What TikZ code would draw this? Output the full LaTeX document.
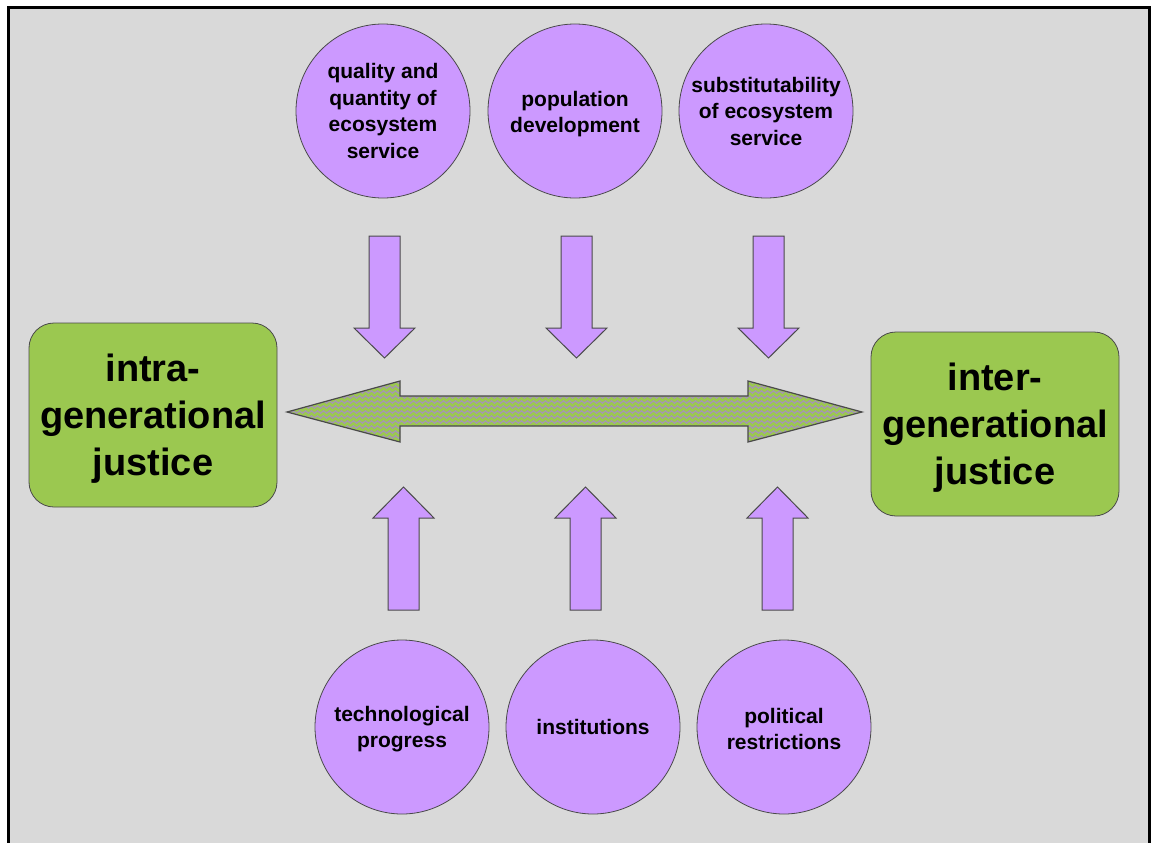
\documentclass[tikz,border=0pt]{standalone}
\usepackage{fontspec}
\setmainfont{Liberation Sans}
\usetikzlibrary{decorations.pathmorphing}
\definecolor{bg}{HTML}{D9D9D9}
\definecolor{lila}{HTML}{CC99FF}
\definecolor{grn}{HTML}{9BC850}
\definecolor{zz}{HTML}{A596B3}
\definecolor{edge}{HTML}{4A4A4A}
\begin{document}
\begin{tikzpicture}[x=1pt,y=-1pt,
  circ/.style={circle, draw=edge, line width=0.8pt, fill=lila, minimum size=174pt, inner sep=0pt, align=center, font=\fontsize{21}{26.5}\selectfont\bfseries},
  ctext/.style={inner sep=0pt, align=center, font=\fontsize{21}{26.5}\selectfont\bfseries},
  gbox/.style={rectangle, rounded corners=25pt, draw=edge, line width=0.8pt, fill=grn, minimum width=248pt, minimum height=184pt},
  gtext/.style={inner sep=0pt, align=center, font=\fontsize{38}{47}\selectfont\bfseries},
  blockarrow/.style={fill=lila, draw=edge, line width=1pt, line join=miter},
  downarrow/.pic={\path[blockarrow] (-15.5,0) -- (15.5,0) -- (15.5,92) -- (30.5,92) -- (0,122) -- (-30.5,92) -- (-15.5,92) -- cycle;},
  uparrow/.pic={\path[blockarrow] (-15.5,0) -- (15.5,0) -- (15.5,-92) -- (30.5,-92) -- (0,-123) -- (-30.5,-92) -- (-15.5,-92) -- cycle;}
]
\useasboundingbox (0,0) rectangle (1151,843);
\fill[white] (0,0) rectangle (1151,843);
\draw[line width=3pt, fill=bg] (8.5,7.5) rectangle (1149.5,900);

% top circles
\node[circ] (q) at (383,111) {quality and\\quantity of\\ecosystem\\service};
\node[circ] (p) at (575,111) {};
\node[ctext] (ptext) at (575,114) {population\\development};
\node[circ] (s) at (766,111) {substitutability\\of ecosystem\\service};

% bottom circles
\node[circ] (t) at (402,727) {};
\node[ctext] (ttext) at (402,729) {technological\\progress};
\node[circ] (i) at (593,727) {institutions};
\node[circ] (r) at (784,727) {};
\node[ctext] (rtext) at (784,729) {political\\restrictions};

% green boxes
\node[gbox] (intra) at (153,415) {};
\node[gtext] (intratext) at (153,419) {intra-\\generational\\justice};
\node[gbox] (inter) at (995,424) {};
\node[gtext] (intertext) at (995,428) {inter-\\generational\\justice};

% down arrows
\pic at (384.5,236) {downarrow};
\pic at (576.5,236) {downarrow};
\pic at (768.5,236) {downarrow};
% up arrows
\pic at (403.5,610) {uparrow};
\pic at (585.5,610) {uparrow};
\pic at (777.5,610) {uparrow};

% double arrow
\def\dbl{(287,412) -- (400,381) -- (400,396) -- (748,396) -- (748,381) -- (862,412) -- (748,442) -- (748,426) -- (400,426) -- (400,442) -- cycle}
\fill[grn] \dbl;
\begin{scope}
  \clip \dbl;
  \foreach \yy in {377,382,...,447}
    \draw[zz, line width=1.2pt, decorate, decoration={zigzag, segment length=6pt, amplitude=1.2pt}] (280,\yy) -- (870,\yy);
\end{scope}
\draw[edge, line width=1.2pt, line join=miter] \dbl;
\end{tikzpicture}
\end{document}
